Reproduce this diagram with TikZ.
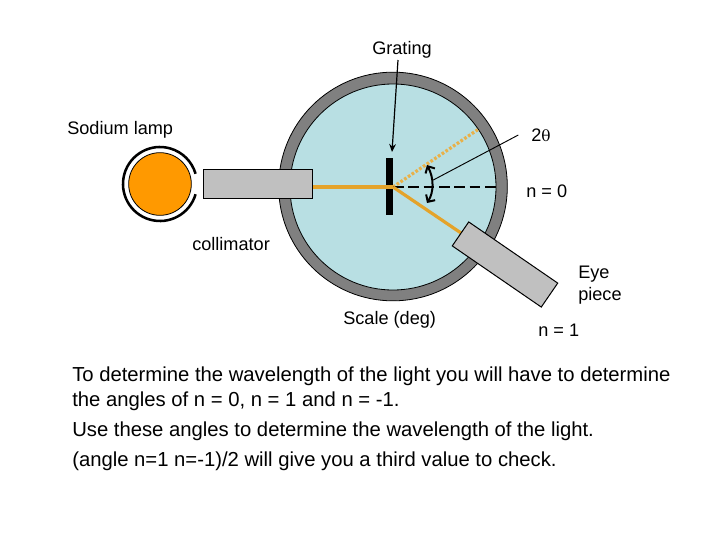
\documentclass[tikz,border=0pt]{standalone}
\usepackage{fontspec}
\setmainfont{Liberation Sans}
\usetikzlibrary{arrows.meta}
\definecolor{ringgray}{RGB}{128,128,128}
\definecolor{scalefill}{RGB}{184,223,227}
\definecolor{tubegray}{RGB}{192,192,192}
\definecolor{lamporange}{RGB}{255,153,0}
\definecolor{beam}{RGB}{228,163,42}
\tikzset{
  lbl/.style={font=\fontsize{13.6}{16}\selectfont,inner sep=0pt,anchor=base west,align=left},
  para/.style={font=\fontsize{15.2}{18}\selectfont,inner sep=0pt,anchor=base west},
  tube/.style={draw=black,line width=0.75pt,fill=tubegray},
  beamline/.style={draw=beam,line width=2.4pt},
  ptr/.style={-{Stealth[length=6pt,width=5pt]},line width=0.9pt},
}
\begin{document}
\begin{tikzpicture}[x=0.75pt,y=-0.75pt]
\useasboundingbox (0,0) rectangle (728,546);
\fill[white] (0,0) rectangle (728,546);
% scale
\node[circle,draw=black,line width=0.6pt,fill=ringgray,minimum size=171.5pt,inner sep=0pt] (ring) at (393,186.5) {};
\node[circle,draw=black,line width=0.6pt,fill=scalefill,minimum size=154.5pt,inner sep=0pt] (scale) at (393,187) {};
% lamp
\node[circle,draw=black,line width=0.6pt,fill=lamporange,minimum size=47pt,inner sep=0pt] (lamp) at (160,184) {};
\draw[line width=1.9pt] (160,184) ++(16:37) arc[start angle=16,end angle=344,radius=37];
% grating
\node[fill=black,minimum width=5.2pt,minimum height=43pt,inner sep=0pt] (grating) at (389.5,186.8) {};
\coordinate (O) at (393,187);
\coordinate (dotend) at (478.3,129.3);
\coordinate (zero) at (496,187);
\coordinate (beamend) at (461,233);
% beams
\draw[draw=beam!85!white,line width=2.4pt,dash pattern=on 2pt off 1.4pt] (O) -- (dotend);
\draw[line width=1.5pt,dash pattern=on 8pt off 3.5pt] (O) -- (zero);
\draw[beamline] (O) -- (beamend);
% collimator
\node[tube,minimum width=82pt,minimum height=21.8pt,inner sep=0pt] (coll) at (258,184) {};
\draw[beamline] (coll.east |- O) -- (O);
% eyepiece
\node[tube,minimum width=81pt,minimum height=21.8pt,inner sep=0pt,rotate=-34.5] (eye) at (505,264.5) {};
% labels
\node[lbl] (tgrating) at (372,54.5) {Grating};
\node[lbl] (tlamp) at (67,134) {Sodium lamp};
\node[lbl] (tcoll) at (192,250) {collimator};
\node[lbl] (ttheta) at (531,141) {2\fontspec{DejaVu Serif}\fontsize{11.5}{12}\selectfont θ};
\node[lbl] (tn0) at (526,197) {n = 0};
\node[lbl] (teye) at (578,278) {Eye};
\node[lbl] (tpiece) at (578,300) {piece};
\node[lbl] (tscale) at (343,324) {Scale (deg)};
\node[lbl] (tn1) at (538,336) {n = 1};
% pointers
\coordinate (gstart) at (398,60);
\coordinate (gtip) at (392,152);
\draw[ptr] (gstart) -- (gtip);
\coordinate (lead) at (433.3,180);
\draw[line width=0.7pt] (518.3,135) -- (lead);
\coordinate (aup) at (427,165);
\coordinate (adn) at (427,203);
\draw[{Straight Barb[length=4pt,width=8pt]}-{Straight Barb[length=4pt,width=8pt]},line width=1.5pt]
  (aup) .. controls (434,178) and (434,192) .. (adn);
% paragraph
\node[para] (p1) at (72,381.5) {To determine the wavelength of the light you will have to determine};
\node[para] (p2) at (72,406) {the angles of n = 0, n = 1 and n = -1.};
\node[para] (p3) at (72,436) {Use these angles to determine the wavelength of the light.};
\node[para] (p4) at (72,466) {(angle n=1 n=-1)/2 will give you a third value to check.};
\end{tikzpicture}
\end{document}
